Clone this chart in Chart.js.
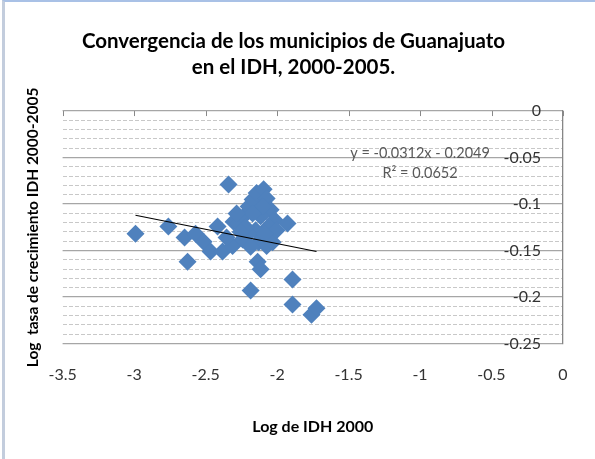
<!DOCTYPE html>
<html>
<head>
<meta charset="utf-8">
<script src="https://cdn.jsdelivr.net/npm/chart.js@4.4.1/dist/chart.umd.min.js"></script>
<style>
html,body{margin:0;padding:0;background:#fff}
#wrap{position:relative;width:595px;height:459px}
#wrap:after{content:'';position:absolute;left:2px;top:0;right:0;bottom:0;border-top:2px solid #a9c1e6;border-left:3px solid #c3cddd;pointer-events:none}
canvas{display:block}
</style>
</head>
<body>
<div id="wrap"><canvas id="chart" width="595" height="459"></canvas></div>
<script>
// Log IDH 2000 (x) vs log growth rate 2000-2005 (y), one point per municipio
const logIDH2000 = [
  -2.99, -2.76, -2.647, -2.626, -2.57, -2.514, -2.465, -2.416, -2.381, -2.339,
  -2.311, -2.304, -2.353, -2.27, -2.234, -2.199, -2.171, -2.143, -2.094, -2.073,
  -2.045, -2.017, -2.059, -2.115, -2.15, -2.199, -2.241, -2.129, -2.073, -2.031,
  -2.101, -2.171, -2.22, -2.255, -2.185, -2.003, -2.087, -2.283, -2.185, -2.136,
  -2.115, -1.927, -1.892, -1.892, -1.759, -1.724
];
const logGrowth = [
  -0.132, -0.124, -0.136, -0.162, -0.132, -0.1405, -0.151, -0.124, -0.151, -0.079,
  -0.145, -0.119, -0.136, -0.121, -0.113, -0.1025, -0.095, -0.088, -0.084, -0.094,
  -0.106, -0.117, -0.124, -0.113, -0.128, -0.132, -0.138, -0.141, -0.145, -0.141,
  -0.1025, -0.110, -0.125, -0.130, -0.146, -0.128, -0.132, -0.110, -0.193, -0.162,
  -0.170, -0.121, -0.181, -0.208, -0.219, -0.212
];
// linear trend (as drawn by Excel, from min x to max x)
const trendX = [-2.99, -1.724];
const trendY = [-0.112, -0.151];
const eqText = ['y = -0.0312x - 0.2049', 'R² = 0.0652'];

const TITLE = ['Convergencia de los municipios de Guanajuato', 'en el IDH, 2000-2005.'];
const X_TITLE = 'Log de IDH 2000';
const Y_TITLE = 'Log  tasa de crecimiento IDH 2000-2005';

const BLUE = '#4f81bd';
const FONT = 'Lato, "Open Sans", sans-serif';

const isMajor = v => Math.abs(Math.round(v * 100)) % 5 === 0;
const fmtTick = v => String(+(+v).toFixed(2));

// short tick marks hanging from the top line (x axis crosses at y=0)
const topTicks = {
  id: 'topTicks',
  beforeDatasetsDraw(chart) {
    const { ctx, chartArea } = chart;
    const xs = chart.scales.x;
    ctx.save();
    ctx.strokeStyle = '#888';
    ctx.lineWidth = 1;
    xs.ticks.forEach(t => {
      const px = Math.round(xs.getPixelForValue(t.value)) + 0.5;
      ctx.beginPath();
      ctx.moveTo(px, chartArea.top);
      ctx.lineTo(px, chartArea.top + 5);
      ctx.stroke();
    });
    ctx.restore();
  }
};

// trendline equation label
const eqLabel = {
  id: 'eqLabel',
  afterDatasetsDraw(chart) {
    const { ctx } = chart;
    const xs = chart.scales.x, ys = chart.scales.y;
    ctx.save();
    ctx.fillStyle = '#595959';
    ctx.font = '14.5px ' + FONT;
    ctx.textAlign = 'center';
    ctx.textBaseline = 'middle';
    ctx.fillText(eqText[0], xs.getPixelForValue(-1.0), ys.getPixelForValue(-0.045));
    ctx.fillText(eqText[1], xs.getPixelForValue(-1.0), ys.getPixelForValue(-0.067));
    ctx.restore();
  }
};

new Chart(document.getElementById('chart'), {
  type: 'scatter',
  plugins: [topTicks, eqLabel],
  data: {
    datasets: [
      {
        type: 'line',
        data: trendX.map((x, i) => ({ x, y: trendY[i] })),
        borderColor: '#000',
        borderWidth: 1.2,
        pointRadius: 0,
        fill: false
      },
      {
        data: logIDH2000.map((x, i) => ({ x, y: logGrowth[i] })),
        pointStyle: 'rectRot',
        pointRadius: 9,
        pointHoverRadius: 9,
        backgroundColor: BLUE,
        borderColor: BLUE,
        borderWidth: 0
      }
    ]
  },
  options: {
    responsive: false,
    animation: false,
    devicePixelRatio: 1,
    layout: { padding: { left: 24, right: 32, bottom: 23, top: 0 } },
    plugins: {
      legend: { display: false },
      tooltip: { enabled: false },
      title: {
        display: true,
        text: TITLE,
        color: '#000',
        font: { family: FONT, size: 20.5, weight: 'bold', lineHeight: 1.27 },
        padding: { top: 28, bottom: 31 }
      }
    },
    scales: {
      x: {
        type: 'linear',
        position: 'bottom',
        min: -3.5, max: 0,
        grid: { display: false, drawTicks: false },
        border: { display: false },
        ticks: {
          stepSize: 0.5,
          padding: 22,
          color: '#333',
          font: { family: FONT, size: 16 },
          callback: v => fmtTick(v)
        },
        title: {
          display: true,
          text: X_TITLE,
          color: '#000',
          font: { family: FONT, size: 16, weight: 'bold' },
          padding: { top: 10, bottom: 0 }
        }
      },
      // minor dashed gridlines + axis title on the left
      y: {
        position: 'left',
        min: -0.25, max: 0,
        grid: {
          drawTicks: false,
          color: c => isMajor(c.tick.value) ? 'rgba(0,0,0,0)' : '#c8c8c8',
          lineWidth: 1
        },
        border: { display: false, dash: [4, 2] },
        ticks: { display: false, stepSize: 0.01, maxTicksLimit: 40 },
        title: {
          display: true,
          text: Y_TITLE,
          color: '#000',
          font: { family: FONT, size: 15.5, weight: 'bold' },
          padding: { top: 0, bottom: 20 }
        }
      },
      // value axis crossing at x = 0 (right edge), labels inside
      yR: {
        position: 'right',
        min: -0.25, max: 0,
        afterFit: s => { s.width = 0; },
        grid: { drawTicks: false, color: '#a6a6a6', lineWidth: 1.3 },
        border: { display: true, color: '#868686', width: 1.3 },
        ticks: {
          stepSize: 0.05,
          mirror: true,
          padding: -22,
          color: '#333',
          font: { family: FONT, size: 16 },
          callback: v => fmtTick(v)
        }
      }
    }
  }
});
</script>
</body>
</html>
